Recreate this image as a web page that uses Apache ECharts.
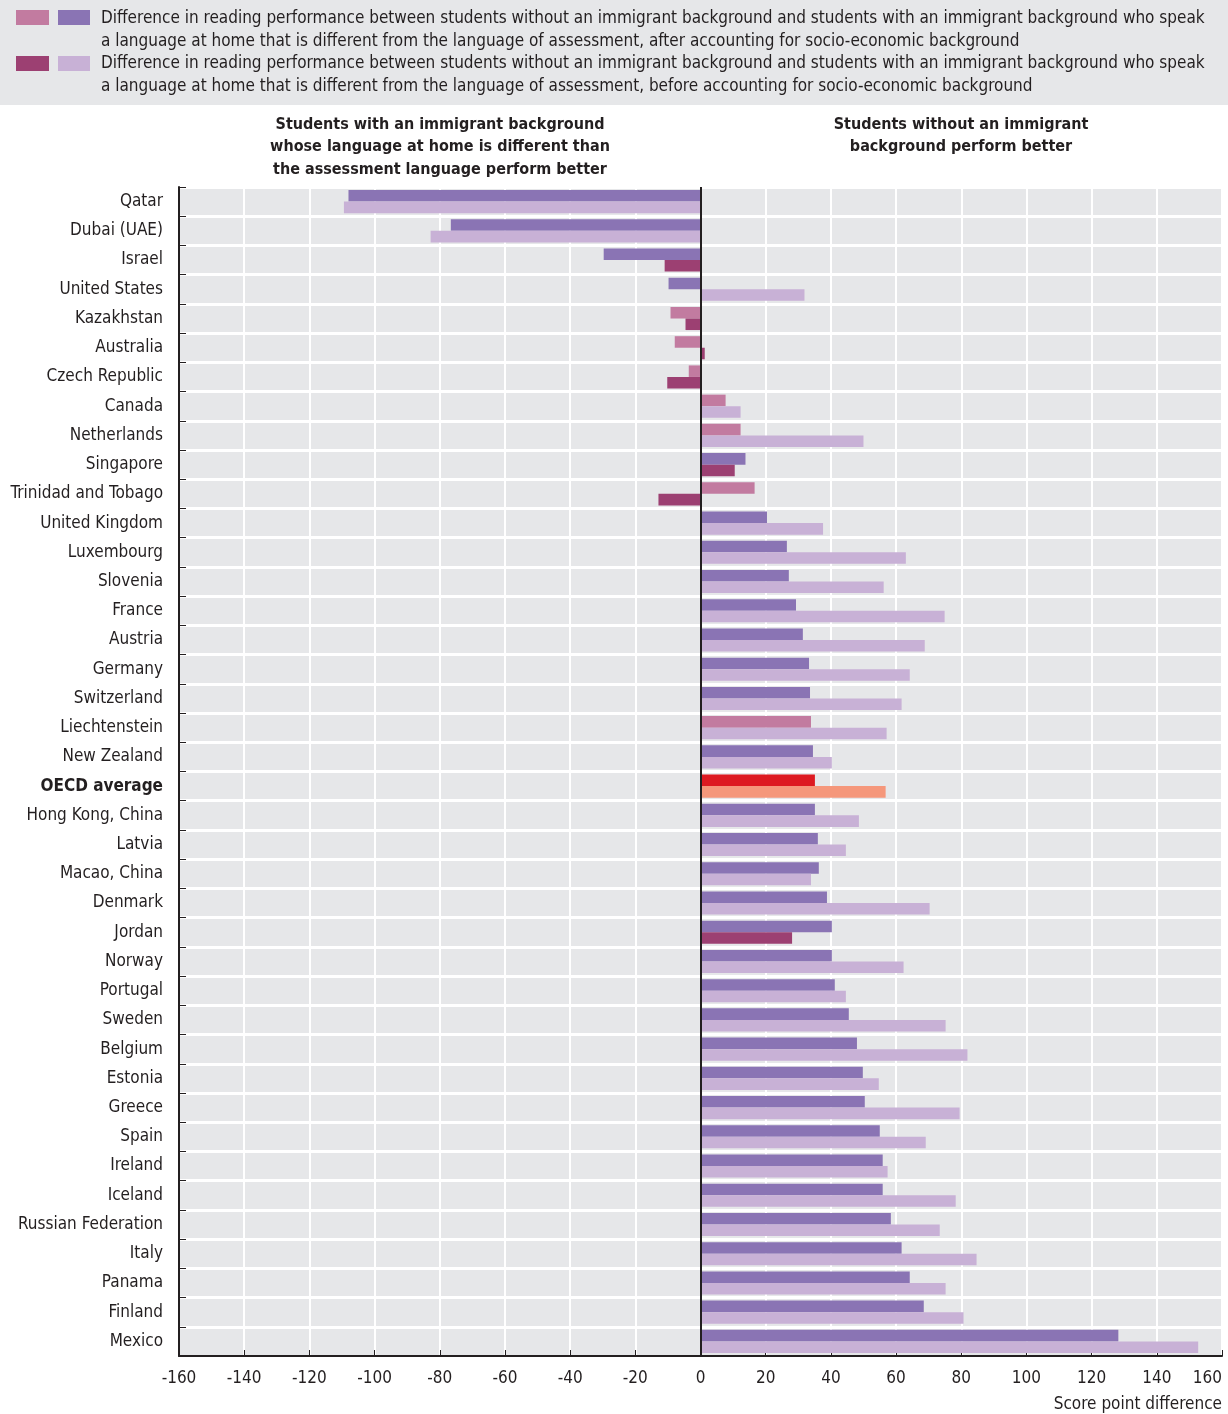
<!DOCTYPE html>
<html>
<head>
<meta charset="utf-8">
<script src="https://cdn.jsdelivr.net/npm/echarts@6/dist/echarts.min.js"></script>
<style>
html,body{margin:0;padding:0;background:#fff;}
#chart{width:1228px;height:1414px;}
</style>
</head>
<body>
<div id="chart"></div>
<script>
var FONT = "'Liberation Sans Narrow','DejaVu Sans Condensed','Roboto',sans-serif";

var countries = ['Qatar','Dubai (UAE)','Israel','United States','Kazakhstan','Australia','Czech Republic','Canada','Netherlands','Singapore','Trinidad and Tobago','United Kingdom','Luxembourg','Slovenia','France','Austria','Germany','Switzerland','Liechtenstein','New Zealand','OECD average','Hong Kong, China','Latvia','Macao, China','Denmark','Jordan','Norway','Portugal','Sweden','Belgium','Estonia','Greece','Spain','Ireland','Iceland','Russian Federation','Italy','Panama','Finland','Mexico'];

// after accounting for socio-economic background
var afterVals = [-108,-76.6,-29.7,-9.8,-9.2,-7.9,-3.6,7.7,12.3,13.8,16.6,20.4,26.5,27.1,29.3,31.4,33.3,33.6,33.9,34.5,35.1,35.1,36.0,36.3,38.8,40.3,40.3,41.2,45.5,48.0,49.8,50.4,55.0,55.9,55.9,58.4,61.7,64.2,68.5,128.2];
var afterSig  = [1,1,1,1,0,0,0,0,0,1,0,1,1,1,1,1,1,1,0,1,1,1,1,1,1,1,1,1,1,1,1,1,1,1,1,1,1,1,1,1];

// before accounting for socio-economic background
var beforeVals = [-109.4,-82.8,-11.0,31.9,-4.6,1.3,-10.2,12.3,50.0,10.5,-12.9,37.6,63.0,56.2,74.9,68.8,64.2,61.7,57.1,40.3,56.8,48.6,44.6,33.9,70.3,28.1,62.3,44.6,75.2,81.9,54.7,79.5,69.1,57.4,78.3,73.4,84.7,75.2,80.7,152.7];
var beforeSig  = [1,1,0,1,0,0,0,1,1,0,0,1,1,1,1,1,1,1,1,1,1,1,1,1,1,0,1,1,1,1,1,1,1,1,1,1,1,1,1,1];

var xTicks = [-160,-140,-120,-100,-80,-60,-40,-20,0,20,40,60,80,100,120,140,160];

var C = {
  afterSig:'#8a74b4', afterNs:'#c27ba0',
  beforeSig:'#c8b1d6', beforeNs:'#9c4072',
  oecdAfter:'#dd1a21', oecdBefore:'#f5977b',
  text:'#231f20', panel:'#e6e7e9'
};

function buildData(vals, sig, on, off, oecd){
  return vals.map(function(v,i){
    var col = countries[i] === 'OECD average' ? oecd : (sig[i] ? on : off);
    return {value:v, itemStyle:{color:col}};
  });
}

var legendLines = [
  'Difference in reading performance between students without an immigrant background and students with an immigrant background who speak',
  'a language at home that is different from the language of assessment, after accounting for socio-economic background',
  'Difference in reading performance between students without an immigrant background and students with an immigrant background who speak',
  'a language at home that is different from the language of assessment, before accounting for socio-economic background'
];

function txt(x,y,s,opt){
  opt = opt || {};
  return {type:'text', x:x, y:y, silent:true, style:{
    text:s, fill:C.text, font:(opt.bold?'bold ':'')+(opt.size||17)+'px '+FONT,
    textAlign:opt.align||'left', textVerticalAlign:'middle'}};
}

var graphics = [
  {type:'rect', shape:{x:0,y:0,width:1228,height:105}, style:{fill:C.panel}, silent:true},
  {type:'rect', shape:{x:16,y:10,width:33,height:15}, style:{fill:C.afterNs}},
  {type:'rect', shape:{x:58,y:10,width:32,height:15}, style:{fill:C.afterSig}},
  {type:'rect', shape:{x:16,y:56,width:33,height:15}, style:{fill:C.beforeNs}},
  {type:'rect', shape:{x:58,y:56,width:32,height:15}, style:{fill:C.beforeSig}},
  txt(101,19,legendLines[0]), txt(101,42,legendLines[1]),
  txt(101,64,legendLines[2]), txt(101,87,legendLines[3]),
  txt(440,125,'Students with an immigrant background',{bold:true,align:'center',size:16}),
  txt(440,147,'whose language at home is different than',{bold:true,align:'center',size:16}),
  txt(440,170,'the assessment language perform better',{bold:true,align:'center',size:16}),
  txt(961,125,'Students without an immigrant',{bold:true,align:'center',size:16}),
  txt(961,147,'background perform better',{bold:true,align:'center',size:16}),
  txt(1222,1405,'Score point difference',{align:'right'})
];

var chart = echarts.init(document.getElementById('chart'));
chart.setOption({
  animation:false,
  backgroundColor:'#fff',
  textStyle:{fontFamily:FONT},
  grid:{left:179,right:6,top:187,bottom:58,show:true,backgroundColor:C.panel,borderWidth:0,
    containLabel:false,outerBoundsMode:'none'},
  graphic:graphics,
  xAxis:{
    type:'value', min:xTicks[0], max:xTicks[xTicks.length-1], interval:20,
    axisLine:{show:true,onZero:false,lineStyle:{color:C.text,width:2}},
    axisTick:{show:true,inside:true,length:6,lineStyle:{color:C.text}},
    splitLine:{show:true,lineStyle:{color:'#fff',width:2}},
    axisLabel:{fontSize:17,color:C.text,margin:14,fontFamily:FONT,alignMaxLabel:'right'}
  },
  yAxis:{
    type:'category', inverse:true, data:countries,
    axisLine:{show:true,onZero:false,lineStyle:{color:C.text,width:2}},
    axisTick:{show:true,inside:true,length:7,lineStyle:{color:C.text}},
    splitLine:{show:true,lineStyle:{color:'#fff',width:3}},
    axisLabel:{fontSize:17,color:C.text,margin:16,fontFamily:FONT,
      formatter:function(v){ return v === 'OECD average' ? '{b|'+v+'}' : v; },
      rich:{b:{fontWeight:'bold',fontSize:17,color:C.text,fontFamily:FONT}}}
  },
  series:[
    {name:'after', type:'bar', barGap:'0%', barCategoryGap:'21%',
     data:buildData(afterVals, afterSig, C.afterSig, C.afterNs, C.oecdAfter),
     markLine:{silent:true, symbol:'none', label:{show:false},
       lineStyle:{color:C.text,width:2,type:'solid'}, data:[{xAxis:0}]}},
    {name:'before', type:'bar', barGap:'0%', barCategoryGap:'21%',
     data:buildData(beforeVals, beforeSig, C.beforeSig, C.beforeNs, C.oecdBefore)}
  ]
});
</script>
</body>
</html>
